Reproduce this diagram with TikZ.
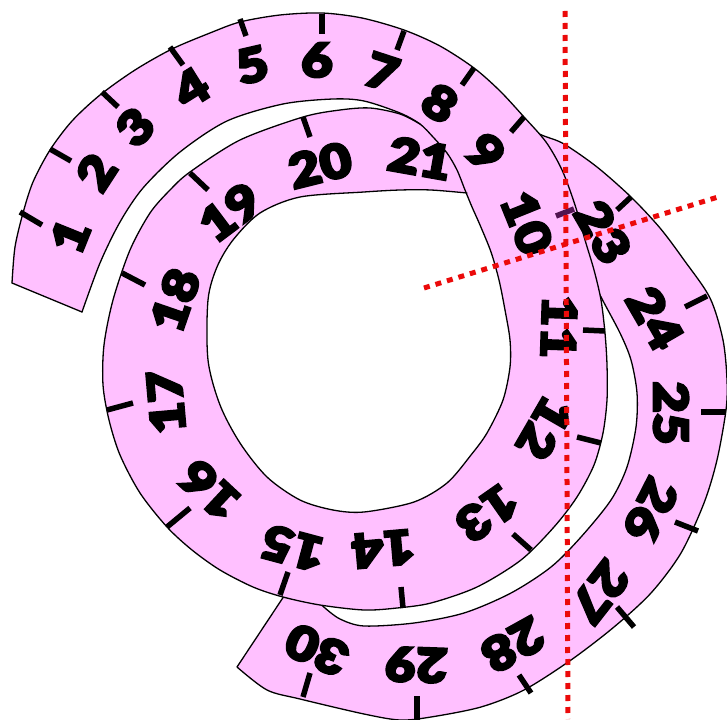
\documentclass[tikz,border=0pt]{standalone}
\usepackage{fontspec}
\IfFontExistsTF{Lato Black}
  {\newfontface\numfont[FakeBold=5,FakeStretch=1.16]{Lato Black}}
  {\IfFontExistsTF{Fira Sans Heavy}
     {\newfontface\numfont[FakeBold=5,FakeStretch=1.16]{Fira Sans Heavy}}
     {\newfontface\numfont[FakeBold=6,FakeStretch=1.16]{Liberation Sans Bold}}}
\definecolor{bandpink}{RGB}{255,192,255}
\definecolor{tickpurple}{RGB}{80,20,80}
\definecolor{dotred}{RGB}{235,10,10}
\begin{document}
\begin{tikzpicture}[x=1pt,y=-1pt,
  edge/.style={line width=1.3pt, line join=round, line cap=round},
  tickmark/.style={line width=5.5pt},
  num/.style={font=\numfont\fontsize{47}{47}\selectfont, inner sep=0pt},
  reddot/.style={dotred, line width=5pt, dash pattern=on 6pt off 6pt}]
\useasboundingbox (0,0) rectangle (727,719);

% ---- outermost band (21 -> 30), partly hidden under the main band
\filldraw[fill=bandpink, edge]
  plot[smooth] coordinates {(470,128) (500,124) (524,128) (544,136) (564,144) (597,167) (631,197) (660,228) (684,260) (710,298) (723,340) (727,380) (726,410) (717,460) (704,503) (681,553) (651,593) (614,627) (571,660) (524,690) (481,707) (431,717) (400,720) (364,714) (300,699) (267,690) (237,667)}
  -- (294,581)
  -- plot[smooth] coordinates {(325,608) (340,619) (364,626) (414,623) (464,613) (511,593) (551,567) (581,537) (611,500) (627,467) (636,427) (637,393) (631,360) (620,333) (600,295) (585,262) (565,228) (540,205) (510,185) (490,160)}
  -- cycle;

% ---- main band (1 -> 21) fill
\fill[bandpink]
  plot[smooth] coordinates {(12,283) (15,247) (23,213) (33,182) (50,150) (72,121) (100,95) (135,70) (172,49) (210,33) (240,22) (280,15) (322,13) (362,18) (404,30) (440,46) (474,68) (500,91) (524,117) (546,142) (562,170) (575,205) (585,240) (594,270) (601,300) (605,333) (607,365) (607,400) (603,433) (594,465) (577,497) (554,527) (521,560) (477,587) (431,603) (397,608) (364,610) (320,605) (283,597) (253,587) (220,570) (192,550) (167,527) (140,493) (120,455) (109,420) (103,385) (104,345) (113,300) (130,250) (150,213) (170,190) (190,172) (240,140) (303,117) (340,110) (370,108) (400,114) (420,124) (450,140) (480,150)}
  -- plot[smooth] coordinates {(490,195) (467,193) (431,190) (400,190) (364,192) (300,197) (260,213) (233,240) (217,267) (208,300) (208,360) (220,405) (240,443) (267,477) (300,500) (333,510) (364,512) (414,502) (447,483) (471,455) (487,433) (503,400) (510,367) (510,340) (505,310) (499,280) (491,252) (480,225) (472,207) (465,190) (457,170) (447,153) (433,137) (420,124) (400,113) (364,101) (333,99) (283,104) (227,121) (180,152) (143,188) (120,222) (100,263) (82,312)}
  -- cycle;

% ---- main band edges
\draw[edge] plot[smooth] coordinates {(12,283) (15,247) (23,213) (33,182) (50,150) (72,121) (100,95) (135,70) (172,49) (210,33) (240,22) (280,15) (322,13) (362,18) (404,30) (440,46) (474,68) (500,91) (524,117) (546,142) (562,170) (575,205) (585,240) (594,270) (601,300) (605,333) (607,365) (607,400) (603,433) (594,465) (577,497) (554,527) (521,560) (477,587) (431,603) (397,608) (364,610) (320,605) (283,597) (253,587) (220,570) (192,550) (167,527) (140,493) (120,455) (109,420) (103,385) (104,345) (113,300) (130,250) (150,213) (170,190) (190,172) (240,140) (303,117) (340,110) (370,108) (400,114) (420,124)};
\draw[edge] plot[smooth] coordinates {(82,312) (100,263) (120,222) (143,188) (180,152) (227,121) (283,104) (333,99) (364,101) (400,113) (420,124) (433,137) (447,153) (457,170) (465,190) (472,207) (480,225) (491,252) (499,280) (505,310) (510,340) (510,367) (503,400) (487,433) (471,455) (447,483) (414,502) (364,512) (333,510) (300,500) (267,477) (240,443) (220,405) (208,360) (208,300) (217,267) (233,240) (260,213) (300,197) (364,192) (400,190) (431,190) (467,193)};
\draw[edge] (12,283) -- (82,312);

% ---- tick marks
\foreach \a/\b in {{(20,212)}/{(42,225)}, {(50,149)}/{(71,161)}, {(102,92)}/{(118,107)},
  {(170,47)}/{(183,65)}, {(240,19)}/{(246,36)}, {(322,14)}/{(322,34)}, {(404,31)}/{(397,50)},
  {(474,68)}/{(462,85)}, {(524,117)}/{(511,132)}, {(605,331)}/{(583,330)}, {(601,443)}/{(577,437)},
  {(531,550)}/{(513,534)}, {(403,608)}/{(401,587)}, {(280,595)}/{(288,572)}, {(167,527)}/{(190,508)},
  {(107,410)}/{(133,403)}, {(122,273)}/{(145,285)}, {(190,173)}/{(208,190)}, {(303,117)}/{(310,137)},
  {(631,197)}/{(617,210)}, {(707,296)}/{(685,307)}, {(726,412)}/{(701,412)}, {(698,531)}/{(675,522)},
  {(634,627)}/{(617,607)}, {(531,693)}/{(519,675)}, {(417,720)}/{(417,696)}, {(303,697)}/{(310,673)}}
  \draw[tickmark] \a -- \b;
\draw[tickmark, tickpurple] (574,209) -- (556,216);

% ---- numbers
\node[num, rotate=68]   (n1)  at (70,236)  {1};
\node[num, rotate=57]   (n2)  at (96,172)  {2};
\node[num, rotate=45]   (n3)  at (135,127) {3};
\node[num, rotate=32]   (n4)  at (191,88)  {4};
\node[num, rotate=13]   (n5)  at (252,65)  {5};
\node[num, rotate=0]    (n6)  at (317,60)  {6};
\node[num, rotate=-18]  (n7)  at (382,72)  {7};
\node[num, rotate=-33]  (n8)  at (440,103) {8};
\node[num, rotate=-43]  (n9)  at (486,152) {9};
\node[num, rotate=-68]  (n10) at (527,223) {10};
\node[num, rotate=-92]  (n11) at (559,327) {11};
\node[num, rotate=-120] (n12) at (545,428) {12};
\node[num, rotate=-145] (n13) at (487,513) {13};
\node[num, rotate=-175] (n14) at (383,549) {14};
\node[num, rotate=165]  (n15) at (293,548) {15};
\node[num, rotate=137]  (n16) at (210,490) {16};
\node[num, rotate=95]   (n17) at (166,402) {17};
\node[num, rotate=71]   (n18) at (175,300) {18};
\node[num, rotate=37]   (n19) at (230,212) {19};
\node[num, rotate=14]   (n20) at (320,165) {20};
\node[num, rotate=-10]  (n21) at (420,158) {21};
\node[num, rotate=-60]  (n23) at (603,232) {23};
\node[num, rotate=-60]  (n24) at (655,318) {24};
\node[num, rotate=-90]  (n25) at (671,413) {25};
\node[num, rotate=-117] (n26) at (651,510) {26};
\node[num, rotate=-128] (n27) at (600,592) {27};
\node[num, rotate=-151] (n28) at (513,645) {28};
\node[num, rotate=178]  (n29) at (416,665) {29};
\node[num, rotate=156]  (n30) at (317,650) {30};

% ---- red dotted lines
\coordinate (vt) at (565,11);
\coordinate (vb) at (568,719);
\coordinate (sl) at (424,288);
\coordinate (sr) at (718,197);
\draw[reddot] (vt) -- (vb);
\draw[reddot] (sl) -- (sr);
\end{tikzpicture}
\end{document}
